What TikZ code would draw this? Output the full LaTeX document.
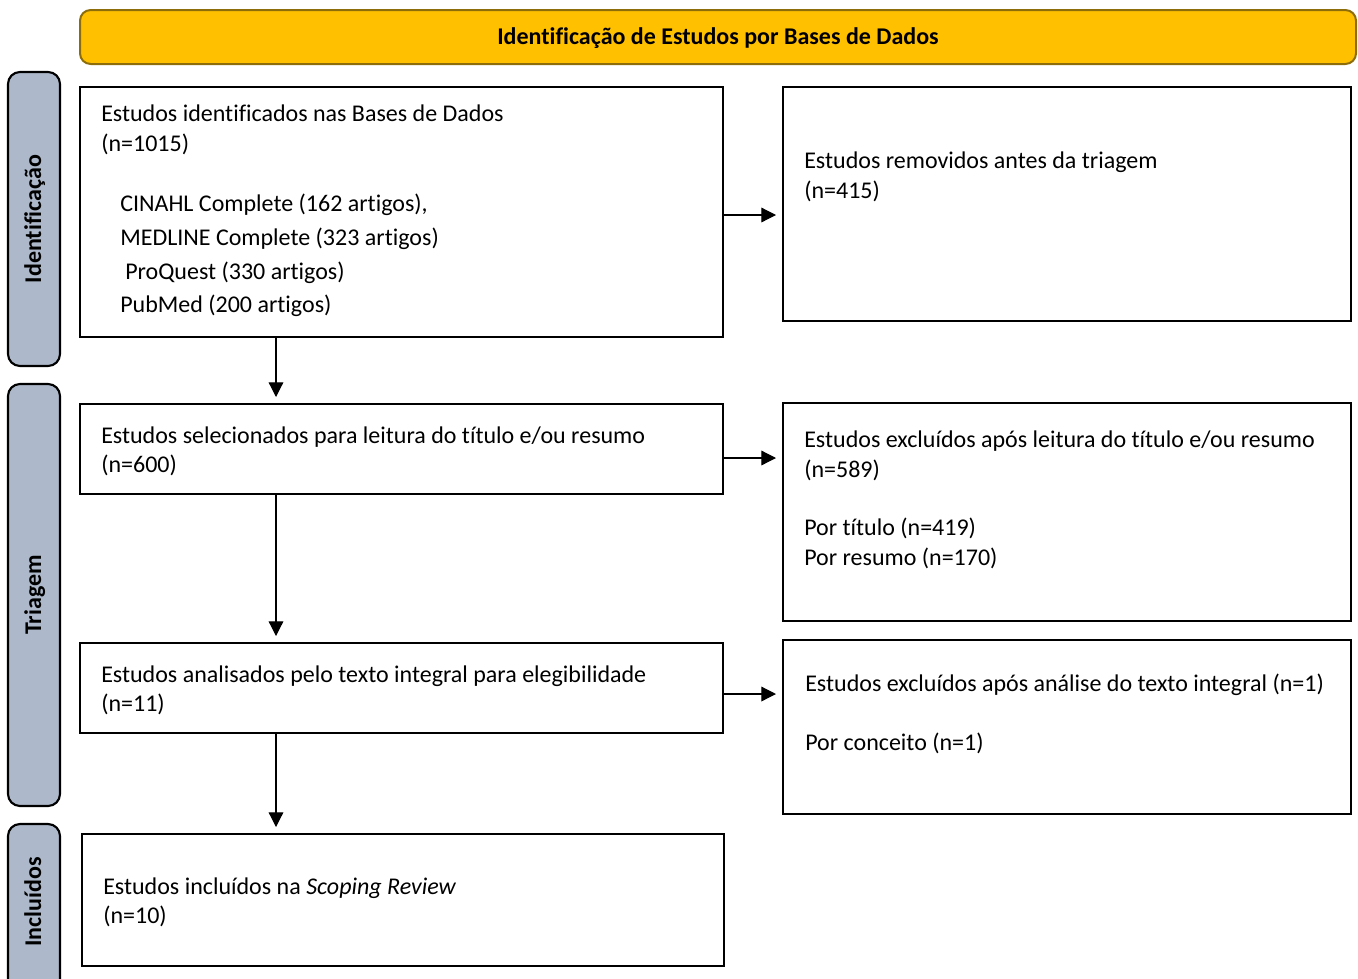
\documentclass[tikz,border=0pt]{standalone}
\usepackage{fontspec}
\setmainfont{Carlito}[Ligatures={NoCommon}]
\usetikzlibrary{fit,arrows.meta}
\definecolor{hdrfill}{HTML}{FFC000}
\definecolor{hdrdraw}{HTML}{8C6D0A}
\definecolor{barfill}{HTML}{ADB9CA}
\begin{document}
\begin{tikzpicture}[x=0.75pt,y=-0.75pt,
  box/.style={draw=black, line width=1.5pt, inner sep=0pt},
  hdr/.style={draw=hdrdraw, fill=hdrfill, line width=1.5pt, rounded corners=8pt, inner sep=0pt},
  bar/.style={draw=black, fill=barfill, line width=1.6pt, rounded corners=9pt, inner sep=0pt},
  txt/.style={anchor=base west, inner sep=0pt, font=\fontsize{18}{22}\selectfont, yshift=-1.2pt},
  lbl/.style={inner sep=0pt, font=\fontsize{18}{22}\selectfont\bfseries, text height=13pt, text depth=4pt},
  arr/.style={-{Triangle[length=11pt,width=11pt]}, line width=0.9pt, shorten >=4.5pt}]
\useasboundingbox (0,0) rectangle (1358,978);
% header
\node[hdr, fit={(80,10) (1356,64)}] (hdr) {};
\node[lbl] (hdrt) at (718,38.5) {Identificação de Estudos por Bases de Dados};
% side bars
\node[bar, fit={(8,72) (60,366)}] (bar1) {};
\node[bar, fit={(8,384) (60,806)}] (bar2) {};
\node[bar, fit={(8,824) (60,995)}] (bar3) {};
\node[lbl, rotate=90] (bar1t) at (35,219) {Identificação};
\node[lbl, rotate=90] (bar2t) at (35,595) {Triagem};
\node[lbl, rotate=90] (bar3t) at (35,902) {Incluídos};
% boxes
\node[box, fit={(80,87) (723,337)}] (b1) {};
\node[box, fit={(783,87) (1351,321)}] (r1) {};
\node[box, fit={(80,404) (723,494)}] (b2) {};
\node[box, fit={(783,403) (1351,621)}] (r2) {};
\node[box, fit={(80,643) (723,733)}] (b3) {};
\node[box, fit={(783,640) (1351,814)}] (r3) {};
\node[box, fit={(82,834) (724,966)}] (b4) {};
% texts
\node[txt] (b1a) at (101,120) {Estudos identificados nas Bases de Dados};
\node[txt] (b1b) at (101,150) {(n=1015)};
\node[txt] (b1c) at (120,210) {CINAHL Complete (162 artigos),};
\node[txt] (b1d) at (120,244) {MEDLINE Complete (323 artigos)};
\node[txt] (b1e) at (125,278) {ProQuest (330 artigos)};
\node[txt] (b1f) at (120,311) {PubMed (200 artigos)};
\node[txt] (r1a) at (804,167) {Estudos removidos antes da triagem};
\node[txt] (r1b) at (804,197) {(n=415)};
\node[txt] (b2a) at (101,442) {Estudos selecionados para leitura do título e/ou resumo};
\node[txt] (b2b) at (101,471) {(n=600)};
\node[txt] (r2a) at (804,446) {Estudos excluídos após leitura do título e/ou resumo};
\node[txt] (r2b) at (804,476) {(n=589)};
\node[txt] (r2c) at (804,534) {Por título (n=419)};
\node[txt] (r2d) at (804,564) {Por resumo (n=170)};
\node[txt] (b3a) at (101,681) {Estudos analisados pelo texto integral para elegibilidade};
\node[txt] (b3b) at (101,710) {(n=11)};
\node[txt] (r3a) at (805,690) {Estudos excluídos após análise do texto integral (n=1)};
\node[txt] (r3b) at (805,749) {Por conceito (n=1)};
\node[txt] (b4a) at (103,893) {Estudos incluídos na \textit{Scoping Review}};
\node[txt] (b4b) at (103,922) {(n=10)};
% connectors
\coordinate (vx) at (276,0);
\draw[arr] (b1.south -| vx) -- (b2.north -| vx);
\draw[arr] (b2.south -| vx) -- (b3.north -| vx);
\draw[arr] (b3.south -| vx) -- (b4.north -| vx);
\coordinate (h1) at (0,215);
\coordinate (h2) at (0,458);
\coordinate (h3) at (0,694);
\draw[arr] (b1.east |- h1) -- (r1.west |- h1);
\draw[arr] (b2.east |- h2) -- (r2.west |- h2);
\draw[arr] (b3.east |- h3) -- (r3.west |- h3);
\end{tikzpicture}
\end{document}
